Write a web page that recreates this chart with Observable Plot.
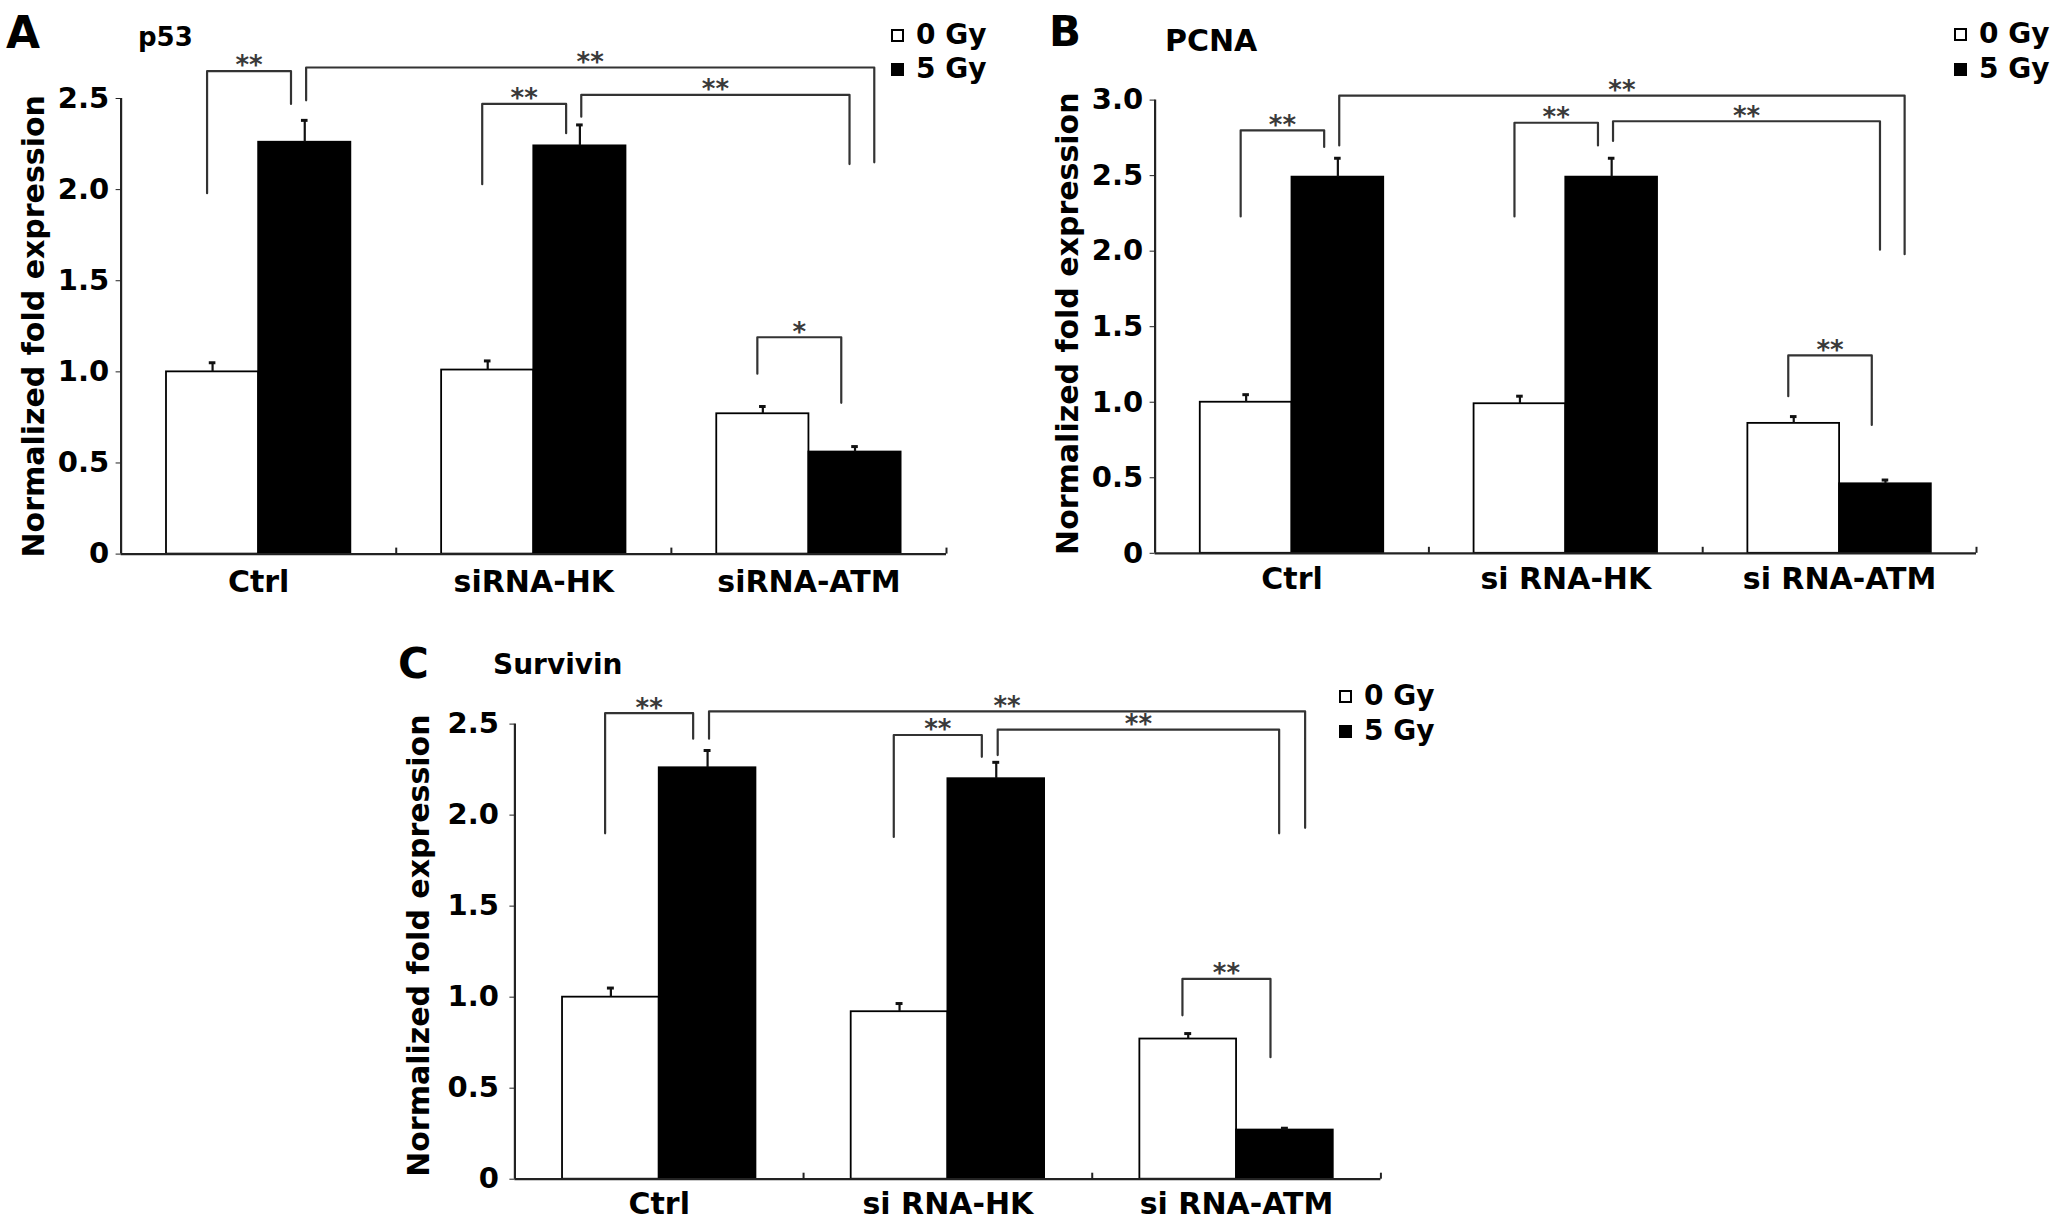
<!DOCTYPE html>
<html>
<head>
<meta charset="utf-8">
<script src="https://cdn.jsdelivr.net/npm/d3@7"></script>
<script src="https://cdn.jsdelivr.net/npm/@observablehq/plot@0.6"></script>
<style>
  html, body { margin: 0; padding: 0; background: #fff; }
  body { width: 2050px; height: 1219px; position: relative; overflow: hidden;
         font-family: "DejaVu Sans", sans-serif; font-weight: bold; color: #000; }
  .abs { position: absolute; line-height: 1; white-space: nowrap; }
  .panel { position: absolute; }
  .key { position: absolute; display: flex; align-items: center; height: 28px;
         font-size: 28px; line-height: 28px; white-space: nowrap; }
  .sw { width: 13px; height: 13px; box-sizing: border-box; border: 2px solid #000; margin-right: 12px; }
</style>
</head>
<body>
<script>
const doses = ["0 Gy", "5 Gy"];
const yTitle = "Normalized fold expression";

// p53
const p53Groups = ["Ctrl", "siRNA-HK", "siRNA-ATM"];
const p53Mean0 = [1.00, 1.01, 0.77];
const p53Mean5 = [2.26, 2.24, 0.56];
const p53Err0 = [0.05, 0.05, 0.04];
const p53Err5 = [0.12, 0.115, 0.03];
const p53Ticks = [0, 0.5, 1.0, 1.5, 2.0, 2.5];
// [group a, dose a, group b, dose b, top, left foot, right foot, mark]
const p53Brackets = [
  [0, 0, 0, 1, 2.65, 1.98, 2.47, "**"],
  [0, 1, 2, 1, 2.67, 2.49, 2.15, "**"],
  [1, 0, 1, 1, 2.47, 2.03, 2.31, "**"],
  [1, 1, 2, 1, 2.52, 2.40, 2.14, "**"],
  [2, 0, 2, 1, 1.19, 0.99, 0.83, "*"]
];

// PCNA
const pcnaGroups = ["Ctrl", "si RNA-HK", "si RNA-ATM"];
const pcnaMean0 = [1.00, 0.99, 0.86];
const pcnaMean5 = [2.49, 2.49, 0.46];
const pcnaErr0 = [0.05, 0.05, 0.045];
const pcnaErr5 = [0.125, 0.125, 0.025];
const pcnaTicks = [0, 0.5, 1.0, 1.5, 2.0, 2.5, 3.0];
const pcnaBrackets = [
  [0, 0, 0, 1, 2.80, 2.23, 2.69, "**"],
  [0, 1, 2, 1, 3.03, 2.70, 1.98, "**"],
  [1, 0, 1, 1, 2.85, 2.23, 2.70, "**"],
  [1, 1, 2, 1, 2.86, 2.73, 2.01, "**"],
  [2, 0, 2, 1, 1.31, 1.04, 0.85, "**"]
];

// Survivin
const survGroups = ["Ctrl", "si RNA-HK", "si RNA-ATM"];
const survMean0 = [1.00, 0.92, 0.77];
const survMean5 = [2.26, 2.20, 0.27];
const survErr0 = [0.05, 0.045, 0.03];
const survErr5 = [0.095, 0.09, 0.01];
const survTicks = [0, 0.5, 1.0, 1.5, 2.0, 2.5];
const survBrackets = [
  [0, 0, 0, 1, 2.56, 1.90, 2.42, "**"],
  [0, 1, 2, 1, 2.57, 2.42, 1.93, "**"],
  [1, 0, 1, 1, 2.44, 1.88, 2.32, "**"],
  [1, 1, 2, 1, 2.47, 2.33, 1.90, "**"],
  [2, 0, 2, 1, 1.10, 0.90, 0.67, "**"]
];

const barW = 0.335;
const capW = 0.012;

function legs(b, outerTop) {
  const [ga, , gb, , top] = b;
  if (ga === gb) return [ga - barW / 2 - 0.02, gb + barW / 2 - 0.05];
  return [ga + barW / 2 + 0.005, gb + barW / 2 + (top === outerTop ? 0.07 : -0.02)];
}

function drawPanel(c) {
  const bars = c.groups.flatMap((g, i) => [
    {i, dose: 0, mean: c.mean0[i], err: c.err0[i]},
    {i, dose: 1, mean: c.mean5[i], err: c.err5[i]}
  ]).map(d => ({
    ...d,
    x1: d.dose ? d.i : d.i - barW,
    x2: d.dose ? d.i + barW : d.i,
    cx: d.i + (d.dose ? barW / 2 : -barW / 2)
  }));

  const outerTop = d3.max(c.brackets.filter(b => b[0] !== b[2]), b => b[4]);
  const paths = c.brackets.flatMap((b, k) => {
    const [xl, xr] = legs(b, outerTop);
    return [
      {k, x: xl, y: b[5]}, {k, x: xl, y: b[4]},
      {k, x: xr, y: b[4]}, {k, x: xr, y: b[6]}
    ];
  });
  const stars = c.brackets.map(b => {
    const [xl, xr] = legs(b, outerTop);
    return {x: (xl + xr) / 2, y: b[4], mark: b[7]};
  });

  const chart = Plot.plot({
    width: c.width,
    height: c.height,
    marginLeft: c.ml,
    marginRight: c.mr,
    marginTop: c.mt,
    marginBottom: c.mb,
    x: {domain: [-0.5, 2.5]},
    y: {domain: [0, c.yMax]},
    style: {
      fontFamily: '"DejaVu Sans", sans-serif',
      fontWeight: "bold",
      fontSize: "29px",
      color: "#000",
      background: "transparent",
      overflow: "visible",
      maxWidth: "none"
    },
    marks: [
      Plot.rect(bars, {
        x1: "x1", x2: "x2", y1: 0, y2: "mean",
        fill: d => d.dose ? "#000" : "#fff",
        stroke: "#000", strokeWidth: 1.8
      }),
      Plot.ruleX(bars, {x: "cx", y1: "mean", y2: d => d.mean + d.err, stroke: "#111", strokeWidth: 2.2}),
      Plot.ruleY(bars, {y: d => d.mean + d.err, x1: d => d.cx - capW, x2: d => d.cx + capW, stroke: "#111", strokeWidth: 3}),
      Plot.ruleY([0], {x1: -0.5, x2: 2.5, stroke: "#222", strokeWidth: 2.2}),
      Plot.ruleX([-0.5], {y1: 0, y2: c.yMax, stroke: "#222", strokeWidth: 2.2}),
      Plot.axisY(c.ticks, {
        tickSize: 5, tickPadding: c.tickPad, label: null, fontSize: 29, stroke: "#222",
        tickFormat: d => d === 0 ? "0" : d.toFixed(1)
      }),
      Plot.axisX([0, 1, 2], {
        tickSize: 0, tickPadding: c.catPad, label: null, fontSize: 30,
        tickFormat: i => c.groups[i]
      }),
      Plot.axisX([0.5, 1.5, 2.5], {tickSize: -6, tickFormat: () => "", label: null, stroke: "#222", strokeWidth: 2}),
      Plot.line(paths, {x: "x", y: "y", z: "k", stroke: "#333", strokeWidth: 2.2}),
      Plot.text(stars, {x: "x", y: "y", text: "mark", dy: -5, fontSize: 26, fill: "#3a3a3a"}),
      Plot.text([yTitle], {
        frameAnchor: "left", textAnchor: "middle", lineAnchor: "middle", rotate: -90,
        dx: c.titleDx, dy: c.titleDy, text: d => d, fontSize: 30, fill: "#000"
      })
    ]
  });

  const holder = document.createElement("div");
  holder.className = "panel";
  holder.style.left = c.left + "px";
  holder.style.top = c.top + "px";
  holder.appendChild(chart);
  document.body.appendChild(holder);

  // panel letter and gene name
  addText(c.letter, c.letterPos[0], c.letterPos[1], c.letterSize);
  addText(c.gene, c.genePos[0], c.genePos[1], c.geneSize);

  // legend
  doses.forEach((d, j) => {
    const row = document.createElement("div");
    row.className = "key";
    row.style.left = c.keyPos[0] + "px";
    row.style.top = (c.keyPos[1] + j * c.keyStep - 14) + "px";
    const sw = document.createElement("span");
    sw.className = "sw";
    sw.style.background = j ? "#000" : "#fff";
    row.appendChild(sw);
    row.appendChild(document.createTextNode(d));
    document.body.appendChild(row);
  });
}

function addText(str, x, y, size) {
  const el = document.createElement("div");
  el.className = "abs";
  el.textContent = str;
  el.style.left = x + "px";
  el.style.top = y + "px";
  el.style.fontSize = size + "px";
  document.body.appendChild(el);
}

drawPanel({
  left: 0, top: 0, width: 1030, height: 610,
  ml: 120.6, mr: 84, mt: 98, mb: 56.4,
  yMax: 2.5, ticks: p53Ticks, groups: p53Groups,
  mean0: p53Mean0, mean5: p53Mean5, err0: p53Err0, err5: p53Err5,
  brackets: p53Brackets, tickPad: 7, catPad: 17, titleDx: -87, titleDy: 0,
  letter: "A", letterPos: [6, 11], letterSize: 44,
  gene: "p53", genePos: [138, 24], geneSize: 26,
  keyPos: [891, 35], keyStep: 34
});

drawPanel({
  left: 1030, top: 0, width: 1020, height: 610,
  ml: 124.6, mr: 74, mt: 99.6, mb: 57.2,
  yMax: 3.0, ticks: pcnaTicks, groups: pcnaGroups,
  mean0: pcnaMean0, mean5: pcnaMean5, err0: pcnaErr0, err5: pcnaErr5,
  brackets: pcnaBrackets, tickPad: 7, catPad: 14, titleDx: -87, titleDy: -3,
  letter: "B", letterPos: [1049, 11], letterSize: 42,
  gene: "PCNA", genePos: [1165, 26], geneSize: 30,
  keyPos: [1954, 34], keyStep: 35
});

drawPanel({
  left: 380, top: 599, width: 1100, height: 620,
  ml: 134.4, mr: 99.6, mt: 124.6, mb: 40.3,
  yMax: 2.5, ticks: survTicks, groups: survGroups,
  mean0: survMean0, mean5: survMean5, err0: survErr0, err5: survErr5,
  brackets: survBrackets, tickPad: 11, catPad: 13, titleDx: -96, titleDy: -6,
  letter: "C", letterPos: [398, 643], letterSize: 42,
  gene: "Survivin", genePos: [493, 651], geneSize: 28,
  keyPos: [1339, 696], keyStep: 35
});
</script>
</body>
</html>
